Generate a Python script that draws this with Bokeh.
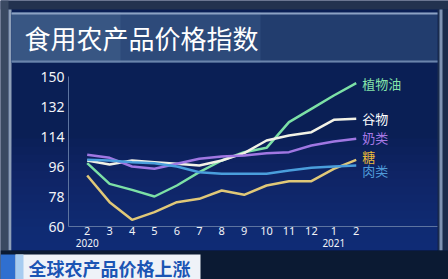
from bokeh.plotting import figure
from bokeh.models import Range1d, BoxAnnotation, Label
from bokeh.core.properties import value
from bokeh.embed import file_html
from bokeh.resources import INLINE

# ---- data ----
months = ["2", "3", "4", "5", "6", "7", "8", "9", "10", "11", "12", "1", "2"]
year_pos = [0, 11]
year_labels = ["2020", "2021"]
y_ticks = [60, 78, 96, 114, 132, 150]

veg_oil = [98, 85.6, 82, 78, 84.6, 92.6, 99.6, 104.6, 107.2, 122.6, 130.6, 138.6, 146]
cereals = [99.6, 97.2, 99.6, 98.6, 97.6, 96.6, 99.6, 104, 111.6, 114.6, 116.6, 124, 124.6]
dairy = [103, 101.2, 96, 94.6, 97.6, 100.6, 102, 102.6, 104, 104.6, 108.6, 111, 112.6]
sugar = [90.6, 74.6, 64, 68.6, 74.6, 76.6, 81.6, 79, 84.6, 87.2, 87.2, 94.6, 100]
meat = [100, 99.6, 98.6, 98, 96, 92.6, 91.6, 91.6, 91.6, 93.6, 95.2, 96, 96.6]

names = ["植物油", "谷物", "奶类", "糖", "肉类"]
values_list = [veg_oil, cereals, dairy, sugar, meat]
line_colors = ["#7ce0a6", "#f2f2e6", "#a077e2", "#e0c878", "#4a9edc"]
label_colors = ["#84e4aa", "#ffffff", "#a879e6", "#eabb3a", "#4f9ad8"]
label_dy = [0, 0, -1, -3, 5]

title_text = "食用农产品价格指数"
caption_text = "全球农产品价格上涨"

x = list(range(len(months)))

# axis extents (data units)
x_axis_left = -0.834
x_axis_right = 15.62

p = figure(width=448, height=279, output_backend="svg", toolbar_location=None,
           x_range=Range1d(-3.867, 16.115), y_range=Range1d(28.2, 195.6),
           min_border=0)
p.axis.visible = False
p.grid.visible = False
p.outline_line_color = None
p.background_fill_color = "#0a1f55"
p.border_fill_color = "#0a1f55"


def box(l, t, r, b, color, alpha=1.0):
    p.add_layout(BoxAnnotation(left=l, right=r, top=t, bottom=b,
                               left_units="canvas", right_units="canvas",
                               top_units="canvas", bottom_units="canvas",
                               fill_color=color, fill_alpha=alpha, line_color=None,
                               level="underlay"))


# frame / decorations
box(0, 0, 448, 9, "#23324f")
box(0, 0, 8, 279, "#3a4962")
box(8, 9, 11, 250, "#8e9fb8")
box(437, 9, 448, 250, "#1b2c4c")
box(439, 9, 442, 250, "#7f93b3")
# soft glow towards the bottom of the panel
for k in range(14):
    box(11, 138 + k * 8, 437, 250, "#1a3d92", 0.07)
box(11, 12, 437, 62, "#223d6e")
box(11, 12, 260, 62, "#2d4a7a")
box(11, 12, 120, 62, "#385683")
box(11, 12, 437, 14, "#8ca2c4")
box(11, 60, 437, 62, "#6a84ac")
box(0, 250, 448, 279, "#0b1a33")
box(0, 254, 15, 279, "#2f6fd0")
box(15, 254, 200, 279, "#eef2f8")
box(15, 254, 23, 279, "#a8ccf0")

# axes drawn with the scales
p.segment(x0=[x_axis_left], y0=[y_ticks[0]], x1=[x_axis_right], y1=[y_ticks[0]],
          line_color="#5d74a0", line_width=1)
p.segment(x0=[x_axis_left], y0=[y_ticks[0]], x1=[x_axis_left], y1=[y_ticks[-1]],
          line_color="#5d74a0", line_width=1)
p.text(x=[x_axis_left] * len(y_ticks), y=y_ticks, text=[str(t) for t in y_ticks],
       text_color="#f2f4f8", text_font=value("Noto Sans"), text_font_size="14px",
       text_align="right", text_baseline="middle", x_offset=-4)
p.text(x=x, y=[y_ticks[0]] * len(x), text=months,
       text_color="#f2f4f8", text_font=value("Noto Sans"), text_font_size="11px",
       text_align="center", text_baseline="top", y_offset=0)
p.text(x=year_pos, y=[y_ticks[0]] * len(year_pos), text=year_labels,
       text_color="#f2f4f8", text_font=value("Noto Sans"), text_font_size="10px",
       text_align="center", text_baseline="top", y_offset=12)

# series
for name, vals, col, lcol, dy in zip(names, values_list, line_colors, label_colors, label_dy):
    p.line(x, vals, line_color=col, line_width=2.5)
    p.text(x=[x[-1]], y=[vals[-1]], text=[name], text_color=lcol,
           text_font=value("Noto Sans CJK SC"), text_font_size="13px",
           text_baseline="middle", x_offset=6, y_offset=dy)

p.add_layout(Label(x=24, y=37, x_units="canvas", y_units="canvas", text=title_text,
                   text_color="#ffffff", text_font="Noto Sans CJK SC",
                   text_font_size="26px", text_baseline="middle"))
p.add_layout(Label(x=28, y=267, x_units="canvas", y_units="canvas", text=caption_text,
                   text_color="#1b55b4", text_font="Noto Sans CJK SC",
                   text_font_size="18px", text_font_style="bold",
                   text_baseline="middle"))

open("out.html", "w").write(file_html(p, INLINE))
